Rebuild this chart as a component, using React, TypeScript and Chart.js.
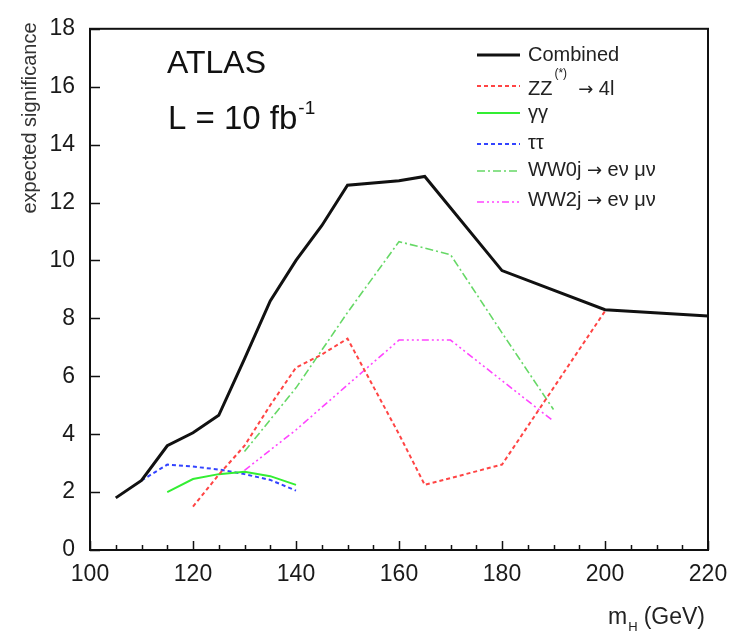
import React, { useEffect, useRef } from "react";
import { Chart, registerables } from "chart.js";

Chart.register(...registerables);

// ---- data ----
const massCombined = [105, 110, 115, 120, 125, 130, 135, 140, 145, 150, 160, 165, 180, 200, 220];
const sigCombined = [1.8, 2.4, 3.6, 4.05, 4.65, 6.6, 8.6, 10.0, 11.2, 12.6, 12.75, 12.9, 9.65, 8.3, 8.08];

const massZZ = [120, 125, 130, 135, 140, 145, 150, 160, 165, 180, 200];
const sigZZ = [1.5, 2.6, 3.6, 5.0, 6.3, 6.75, 7.3, 4.0, 2.25, 2.95, 8.25];

const massGG = [115, 120, 125, 130, 135, 140];
const sigGG = [2.0, 2.45, 2.62, 2.7, 2.55, 2.25];

const massTT = [110, 115, 120, 125, 130, 135, 140];
const sigTT = [2.4, 2.95, 2.88, 2.78, 2.62, 2.42, 2.05];

const massWW0j = [130, 140, 150, 160, 170, 180, 190];
const sigWW0j = [3.4, 5.6, 8.2, 10.65, 10.2, 7.5, 4.85];

const massWW2j = [130, 140, 150, 160, 170, 180, 190];
const sigWW2j = [2.75, 4.15, 5.7, 7.25, 7.25, 5.85, 4.45];

const xTickStep = 20;
const xMinorStep = 5;
const yTickStep = 2;

const FONT = '"Liberation Sans", Arial, Helvetica, sans-serif';
const ARROW_FONT = '"DejaVu Sans", sans-serif';

const pts = (xs: number[], ys: number[]) => xs.map((x, i) => ({ x, y: ys[i] }));

// rich legend labels: [text, kind] where kind: "n" normal, "sup" superscript, "arr" arrow
const legendParts: Array<Array<[string, string]>> = [
  [["Combined", "n"]],
  [["ZZ", "n"], ["(*)", "sup"], ["  ", "n"], ["\u2192", "arr"], [" 4l", "n"]],
  [["\u03b3\u03b3", "n"]],
  [["\u03c4\u03c4", "n"]],
  [["WW0j ", "n"], ["\u2192", "arr"], [" e\u03bd \u03bc\u03bd", "n"]],
  [["WW2j ", "n"], ["\u2192", "arr"], [" e\u03bd \u03bc\u03bd", "n"]],
];

const overlay = {
  id: "atlasOverlay",
  afterDraw(chart: any) {
    const { ctx, chartArea: a, scales } = chart;
    const xs = scales.x;
    const ys = scales.y;
    ctx.save();

    // frame
    ctx.strokeStyle = "#111";
    ctx.lineWidth = 2;
    ctx.strokeRect(a.left, a.top, a.right - a.left, a.bottom - a.top);

    // inward ticks
    ctx.lineWidth = 1.5;
    ctx.beginPath();
    for (let v = xs.min; v <= xs.max + 1e-9; v += xMinorStep) {
      const px = Math.round(xs.getPixelForValue(v)) + 0.5;
      const len = Math.abs(v % xTickStep) < 1e-9 ? 9 : 5;
      ctx.moveTo(px, a.bottom);
      ctx.lineTo(px, a.bottom - len);
    }
    for (let v = ys.min; v <= ys.max + 1e-9; v += yTickStep) {
      const py = Math.round(ys.getPixelForValue(v)) + 0.5;
      ctx.moveTo(a.left, py);
      ctx.lineTo(a.left + 10, py);
    }
    ctx.stroke();

    // ATLAS label
    ctx.fillStyle = "#111";
    ctx.textAlign = "left";
    ctx.textBaseline = "alphabetic";
    ctx.font = `32px ${FONT}`;
    ctx.fillText("ATLAS", 167, 73);
    ctx.font = `33px ${FONT}`;
    const lumi = "L = 10 fb";
    ctx.fillText(lumi, 168, 129);
    const lw = ctx.measureText(lumi).width;
    ctx.font = `19px ${FONT}`;
    ctx.fillText("-1", 168 + lw + 1, 114);

    // y title
    ctx.save();
    ctx.translate(30, 118);
    ctx.rotate(-Math.PI / 2);
    ctx.textAlign = "center";
    ctx.textBaseline = "middle";
    ctx.font = `20px ${FONT}`;
    ctx.fillStyle = "#333";
    ctx.fillText("expected significance", 0, 0);
    ctx.restore();

    // x title m_H (GeV), right aligned
    ctx.fillStyle = "#222";
    ctx.textBaseline = "alphabetic";
    ctx.font = `23px ${FONT}`;
    const gev = "(GeV)";
    const gw = ctx.measureText(gev).width;
    const gx = 705 - gw;
    ctx.fillText(gev, gx, 624);
    ctx.font = `13px ${FONT}`;
    const hw = ctx.measureText("H").width;
    ctx.fillText("H", gx - 6 - hw, 631);
    ctx.font = `23px ${FONT}`;
    const mw = ctx.measureText("m").width;
    ctx.fillText("m", gx - 6 - hw - 1 - mw, 624);

    // legend
    const rowsLine = [55, 86, 113, 144, 171, 202];
    const rowsText = [55, 89, 113, 143, 170, 200];
    chart.data.datasets.forEach((ds: any, i: number) => {
      ctx.save();
      ctx.strokeStyle = ds.borderColor;
      ctx.lineWidth = ds.borderWidth;
      ctx.setLineDash(ds.borderDash || []);
      ctx.beginPath();
      ctx.moveTo(477, rowsLine[i]);
      ctx.lineTo(520, rowsLine[i]);
      ctx.stroke();
      ctx.restore();
      let x = 528;
      ctx.fillStyle = "#222";
      ctx.textBaseline = "middle";
      for (const [t, kind] of legendParts[i]) {
        if (kind === "sup") {
          ctx.font = `12px ${FONT}`;
          ctx.fillText(t, x + 2, rowsText[i] - 15);
          x += ctx.measureText(t).width + 2;
        } else if (kind === "arr") {
          ctx.font = `18px ${ARROW_FONT}`;
          ctx.fillText(t, x, rowsText[i] + 1);
          x += ctx.measureText(t).width;
        } else {
          ctx.font = `20px ${FONT}`;
          ctx.fillText(t, x, rowsText[i]);
          x += ctx.measureText(t).width;
        }
      }
    });

    ctx.restore();
  },
};

export default function App() {
  const ref = useRef<HTMLCanvasElement>(null);
  useEffect(() => {
    if (!ref.current) return;
    const common = { pointRadius: 0, fill: false, tension: 0 };
    const chart = new Chart(ref.current, {
      type: "line",
      data: {
        datasets: [
          { label: "Combined", data: pts(massCombined, sigCombined), borderColor: "#111111", borderWidth: 3, ...common },
          { label: "ZZ(*) → 4l", data: pts(massZZ, sigZZ), borderColor: "#ff4444", borderWidth: 2, borderDash: [4, 3], ...common },
          { label: "γγ", data: pts(massGG, sigGG), borderColor: "#33ee33", borderWidth: 2, ...common },
          { label: "ττ", data: pts(massTT, sigTT), borderColor: "#3344ff", borderWidth: 2, borderDash: [4, 3], ...common },
          { label: "WW0j → eν μν", data: pts(massWW0j, sigWW0j), borderColor: "#66d866", borderWidth: 1.6, borderDash: [8, 3, 2, 3], ...common },
          { label: "WW2j → eν μν", data: pts(massWW2j, sigWW2j), borderColor: "#ff44ff", borderWidth: 1.6, borderDash: [7, 3, 2, 3, 2, 3, 2, 3], ...common },
        ],
      } as any,
      options: {
        responsive: false,
        animation: false,
        layout: { padding: { top: 20, right: 32, left: 0, bottom: 0 } },
        plugins: { legend: { display: false }, tooltip: { enabled: false } },
        scales: {
          x: {
            type: "linear",
            min: 100,
            max: 220,
            afterFit: (s: any) => {
              s.height = 82;
            },
            grid: { display: false, drawTicks: false },
            border: { display: false },
            ticks: { stepSize: xTickStep, font: { family: FONT, size: 23 }, color: "#1a1a1a", padding: 11, maxRotation: 0, autoSkip: false },
          },
          y: {
            min: 0,
            max: 18,
            afterFit: (s: any) => {
              s.width = 90;
            },
            grid: { display: false, drawTicks: false },
            border: { display: false },
            ticks: { stepSize: yTickStep, font: { family: FONT, size: 23 }, color: "#1a1a1a", padding: 15 },
          },
        },
      } as any,
      plugins: [overlay],
    });
    return () => chart.destroy();
  }, []);
  return (
    <div style={{ position: "fixed", left: 0, top: 0, width: 740, height: 632, background: "#fff" }}>
      <canvas ref={ref} width={740} height={632} style={{ width: 740, height: 632, display: "block" }} />
    </div>
  );
}
